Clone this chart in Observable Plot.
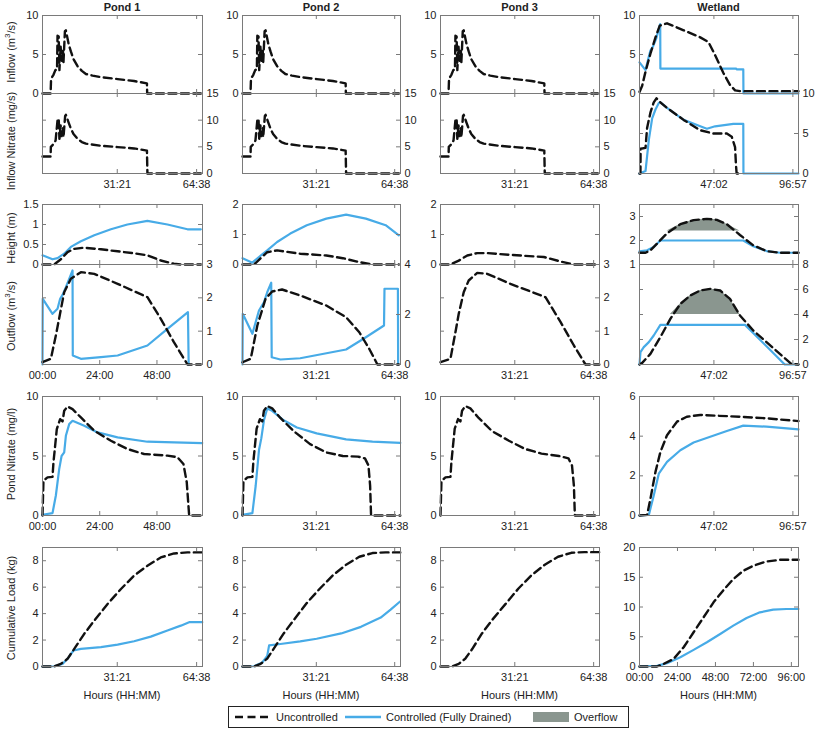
<!DOCTYPE html>
<html><head><meta charset="utf-8">
<script src="https://cdn.jsdelivr.net/npm/d3@7"></script>
<script src="https://cdn.jsdelivr.net/npm/@observablehq/plot@0.6"></script>
<style>
body{margin:0;background:#fff;}
#chart{position:relative;width:817px;height:732px;font-family:"Liberation Sans",Arial,Helvetica,sans-serif;color:#222;overflow:hidden;}
#chart svg.panel{position:absolute;overflow:visible;}
.lab{position:absolute;font-size:11px;white-space:nowrap;line-height:12px;}
.title{position:absolute;font-size:11px;font-weight:bold;white-space:nowrap;transform:translate(-50%,-50%);}
</style></head><body><div id="chart"></div><script>
// ---------- tick values & labels ----------
const pondXDomain = [0, 67.1];
const wetXDomain = [0, 100.5];
const pondXTicks = [31.35, 64.633], pondXLabels = ["31:21", "64:38"];
const p1XTicks = [0, 24, 48], p1XLabels = ["00:00", "24:00", "48:00"];
const wetXTicks = [47.033, 96.95], wetXLabels = ["47:02", "96:57"];
const wetCumXTicks = [0, 24, 48, 72, 96], wetCumXLabels = ["00:00", "24:00", "48:00", "72:00", "96:00"];
const columnTitles = ["Pond 1", "Pond 2", "Pond 3", "Wetland"];

// ---------- data: [hours, value] ----------
// Row 1: inflow (identical for ponds 1-3)
const pondInflowUnc = [[0,0],[3.4,0],[3.6,1.9],[4.6,2.4],[5.4,3.0],[6.1,3.1],[6.3,7.4],[6.8,7.3],[7.1,3.0],[7.6,6.0],[8.0,4.2],[8.6,5.5],[8.8,4.0],[9.4,8.0],[9.8,8.1],[11.0,6.3],[11.9,5.4],[13.0,4.4],[14.7,3.5],[16.5,2.9],[18.2,2.5],[21,2.3],[24.5,2.1],[31.5,1.85],[38.4,1.6],[43.8,1.3],[43.9,0],[66.4,0]];
const pondNitInUnc = [[0,3.2],[3.4,3.2],[3.5,5.0],[4.6,5.5],[5.5,6.2],[6.3,10.0],[6.8,10.3],[7.1,6.5],[7.6,9.0],[8.0,7.0],[8.6,8.5],[8.8,6.8],[9.5,10.8],[9.8,11.0],[11.0,9.5],[11.9,8.4],[13.0,7.4],[14.7,6.5],[16.5,5.9],[18.2,5.6],[24.5,5.2],[31.5,4.95],[38.4,4.7],[43.8,4.3],[44.0,0],[66.4,0]];
const wetInflowUnc = [[0,0.2],[1.7,1.0],[3.8,2.8],[6.9,5.1],[10.1,7.2],[12.8,8.7],[17.4,9.0],[27.9,8.1],[38.4,7.2],[43.6,6.6],[47.8,4.9],[53.1,2.6],[57.2,1.1],[60.4,0.4],[63.5,0.3],[100.5,0.3]];
const wetInflowCon = [[0,4.0],[3.8,3.0],[5.0,4.0],[6.9,5.5],[8.5,6.0],[10.5,7.0],[12.8,8.7],[13.1,8.9],[13.2,3.2],[61.0,3.2],[61.4,3.1],[65.6,3.1],[65.7,0],[100.5,0]];
const wetNitInUnc = [[0,0],[0.6,0],[0.7,3.1],[3.8,3.2],[4.8,5.7],[6.9,7.6],[9.0,8.9],[10.7,9.4],[13.2,8.9],[17.4,8.2],[27.9,6.7],[38.4,5.4],[46.8,5.0],[55.2,5.0],[58.3,4.6],[60.4,3.3],[61.0,1.0],[61.4,0],[65.0,0]];
const wetNitInCon = [[0,0],[3.8,0.3],[5.9,4.2],[8.0,6.9],[10.1,8.0],[12.2,8.8],[13.2,8.9],[17.4,8.2],[27.9,6.7],[38.4,5.9],[42.6,5.6],[47.8,5.9],[59.3,6.2],[65.6,6.2],[65.7,0],[100.5,0]];

// Row 2: height & outflow
const p1HeightUnc = [[0,0],[4.9,0],[7.7,0.13],[10.5,0.31],[13.3,0.39],[17.5,0.42],[24.5,0.38],[31.5,0.33],[38.4,0.28],[44.0,0.23],[49.6,0.1],[55.1,0.02],[57.9,0],[66.4,0]];
const p1HeightCon = [[0,0.23],[4.2,0.13],[6.3,0.16],[9.1,0.27],[11.9,0.44],[16.1,0.58],[21.7,0.73],[28.7,0.88],[35.6,1.0],[44.0,1.09],[52.4,1.0],[60.8,0.88],[66.4,0.88]];
const p1OutUnc = [[0,0.07],[3.5,0.17],[5.6,0.87],[9.1,2.17],[11.9,2.57],[16.1,2.77],[21.7,2.72],[31.5,2.42],[44.0,2.02],[49.6,1.37],[55.1,0.67],[60.8,0],[66.4,0]];
const p1OutCon = [[0,0],[0.1,1.97],[4.2,1.52],[6.3,1.67],[7.4,1.97],[8.4,2.09],[9.8,2.32],[11.2,2.57],[12.6,2.82],[12.7,0.27],[16.1,0.17],[24.5,0.22],[31.5,0.27],[44.0,0.57],[52.4,1.07],[61.0,1.57],[61.3,0]];
const p2HeightUnc = [[0,0],[4.9,0],[7.7,0.21],[10.5,0.41],[14.7,0.47],[24.5,0.36],[35.6,0.3],[42.6,0.21],[49.6,0.08],[55.1,0],[66.4,0]];
const p2HeightCon = [[0,0.21],[4.2,0.06],[7.0,0.25],[10.5,0.47],[14.7,0.75],[20.3,1.03],[27.3,1.31],[35.6,1.53],[44.0,1.66],[52.4,1.53],[60.8,1.31],[66.4,0.97]];
const p2OutUnc = [[0,0.09],[3.5,0.23],[6.3,1.56],[9.8,2.63],[12.6,2.92],[16.8,3.0],[24.5,2.76],[35.6,2.36],[44.0,1.89],[49.6,1.29],[53.8,0.63],[57.3,0],[66.4,0]];
const p2OutCon = [[0,0],[0.1,2.03],[4.2,1.23],[7.0,2.16],[9.1,2.49],[10.5,2.89],[12.2,3.27],[12.4,0.29],[16.1,0.2],[24.5,0.25],[44.0,0.6],[52.4,1.09],[60.1,1.56],[60.3,3.03],[66.0,3.03],[66.1,0]];
const p3HeightUnc = [[0,0],[4.2,0],[7.7,0.13],[11.3,0.3],[15.5,0.38],[19.7,0.38],[29.5,0.32],[43.6,0.25],[50.7,0.1],[56.3,0],[67,0]];
const p3OutUnc = [[0,0.07],[4.2,0.17],[6.3,0.97],[7.7,1.52],[9.8,2.17],[11.9,2.52],[15.5,2.75],[19.7,2.72],[29.5,2.42],[44.3,2.02],[50.7,1.27],[56.3,0.57],[61.2,0],[67,0]];
const wetHeightUnc = [[0,1.49],[3.8,1.49],[6.9,1.59],[11.1,1.87],[17.4,2.3],[25.8,2.68],[34.2,2.85],[42.6,2.9],[48.9,2.86],[55.2,2.68],[63.5,2.23],[71.9,1.8],[80.3,1.56],[88.7,1.49],[100.5,1.49]];
const wetHeightCon = [[0,1.55],[4.8,1.59],[9.0,1.73],[13.2,2.0],[65.6,2.0],[71.9,1.76],[80.3,1.56],[88.7,1.49],[100.5,1.49]];
const wetOutUnc = [[0,0],[1.7,0.13],[6.9,0.85],[13.2,2.19],[19.5,3.65],[25.8,4.85],[32.1,5.52],[38.4,5.92],[44.7,6.05],[51.0,5.92],[57.2,5.25],[63.5,3.92],[71.9,2.72],[80.3,1.79],[88.7,0.85],[96.0,0.05],[100.5,0]];
const wetOutCon = [[0,0],[0.6,0.99],[2.7,1.39],[5.9,1.79],[9.0,2.32],[13.2,3.17],[66.7,3.17],[91.8,0],[100.5,0]];
const wetHeightOverflow = 2.4;
const wetOutOverflow = 4;

// Row 3: pond nitrate
const p1NitUnc = [[0,0],[0.4,2.93],[2.1,3.2],[4.2,3.25],[4.6,4.47],[6.0,7.26],[7.4,8.1],[8.4,7.9],[9.1,8.8],[10.5,9.16],[12.6,8.94],[16.1,8.24],[21.7,7.12],[28.7,6.28],[35.6,5.59],[42.6,5.17],[52.4,5.03],[56.6,4.9],[59.1,4.33],[60.5,2.79],[61.5,0],[67,0]];
const p1NitCon = [[0,0.06],[4.2,0.2],[5.6,1.68],[7.0,3.9],[8.0,5.0],[9.1,5.3],[9.8,6.7],[11.2,7.68],[12.6,7.96],[17.5,7.54],[23.1,6.98],[31.5,6.56],[44.0,6.2],[55.2,6.15],[67,6.09]];
const p2NitUnc = [[0,0],[0.4,2.9],[2.1,3.2],[4.2,3.25],[4.6,4.5],[6.0,7.3],[7.4,8.1],[8.4,7.9],[9.1,8.8],[10.5,9.2],[12.6,9.0],[16.1,8.2],[21.7,7.1],[28.7,6.0],[35.6,5.3],[42.6,5.0],[49,4.95],[52,4.8],[53.5,4.2],[54.2,2.5],[54.6,0],[67,0]];
const p2NitCon = [[0,0.05],[4.2,0.2],[5.6,2.5],[7.0,5.5],[8.0,6.5],[9.1,8.0],[10.5,9.0],[12.6,8.8],[17.5,8.0],[23.1,7.4],[31.5,6.9],[44.0,6.4],[55.2,6.2],[67,6.1]];
const p3NitUnc = [[0,0],[0.4,2.9],[2.1,3.2],[4.2,3.25],[4.6,4.5],[6.0,7.3],[7.4,8.1],[8.4,7.9],[9.1,8.8],[10.5,9.2],[12.6,9.0],[16.1,8.2],[21.7,7.1],[28.7,6.3],[35.6,5.6],[42.6,5.2],[50,5.0],[54,4.8],[55.5,4.2],[56.3,2.5],[56.7,0],[67,0]];
const wetNitUnc = [[0,0],[4.8,0.03],[6.9,0.84],[10.1,2.2],[13.2,3.2],[17.4,4.05],[23.7,4.73],[29.9,4.98],[38.4,5.07],[48.9,5.03],[63.5,4.98],[80.3,4.9],[100.5,4.76]];
const wetNitCon = [[0,0],[5.9,0.03],[9.0,1.01],[12.2,2.11],[17.4,2.7],[25.8,3.29],[34.2,3.68],[44.7,3.97],[55.2,4.26],[65.6,4.53],[80.3,4.48],[100.5,4.34]];

// Row 4: cumulative load
const p1CumUnc = [[0,0],[4.9,0],[7.7,0.2],[10.5,0.58],[13.3,1.33],[17.5,2.47],[21.7,3.47],[27.3,4.73],[32.9,5.86],[38.4,6.87],[44.0,7.62],[49.6,8.25],[55.2,8.55],[60.8,8.63],[67,8.63]];
const p1CumCon = [[0,0],[4.9,0.02],[8.4,0.2],[10.5,0.58],[13.0,1.21],[16.1,1.33],[24.5,1.46],[31.5,1.66],[38.4,1.91],[45.4,2.26],[52.4,2.72],[58.0,3.09],[61.5,3.35],[67,3.35]];
const p2CumUnc = [[0,0],[4.9,0],[7.7,0.2],[10.5,0.6],[13.3,1.35],[17.5,2.5],[21.7,3.5],[27.3,4.8],[32.9,5.9],[38.4,6.9],[44.0,7.7],[49.6,8.3],[55.2,8.58],[60.8,8.63],[67,8.63]];
const p2CumCon = [[0,0],[4.9,0.02],[8.4,0.3],[10.5,0.8],[11.3,1.6],[16.1,1.7],[24.5,1.9],[31.5,2.1],[41.9,2.5],[50.3,3.0],[58.7,3.7],[62.9,4.3],[66.8,4.9]];
const p3CumUnc = [[0,0],[4.9,0],[7.7,0.2],[10.5,0.6],[13.3,1.3],[17.5,2.5],[21.7,3.5],[27.3,4.7],[32.9,5.9],[38.4,6.9],[44.0,7.7],[49.6,8.3],[55.2,8.6],[60.8,8.65],[67,8.65]];
const wetCumUnc = [[0,0],[11.1,0],[15.3,0.45],[21.6,1.28],[27.9,3.24],[34.2,5.75],[40.5,8.27],[46.8,10.78],[53.1,12.85],[59.3,14.69],[65.6,16.09],[71.9,16.93],[80.3,17.65],[88.7,17.93],[100.5,17.93]];
const wetCumCon = [[0,0],[11.1,0.1],[17.4,0.56],[25.8,1.56],[34.2,2.79],[42.6,4.08],[51.0,5.47],[59.3,6.87],[67.7,8.16],[76.1,9.1],[84.5,9.55],[92.9,9.66],[100.5,9.66]];

// ---------- layout ----------
const BLUE = "#47abe7", BLACK = "#111", GREY = "#8a968f", FRAME = "#7a7a7a";
const DASH = "8,4.5";
const colX = [42, 242, 440, 639], colW = [160, 158, 159, 159];
const rows = {inflow:[15,78], nitIn:[93,80], height:[204,60], out:[264,100], pond:[396,119], cum:[547,119]};
const chart = document.getElementById("chart");

function panel(col, rowKey, o) {
  const [y0, h] = rows[rowKey];
  const x0 = colX[col], w = colW[col];
  const X = d => d[0], Y = d => d[1];
  const marks = [];
  if (o.thr != null) marks.push(Plot.areaY(o.unc, {x: X, y1: o.thr, y2: d => Math.max(d[1], o.thr), fill: GREY}));
  if (o.con) marks.push(Plot.line(o.con, {x: X, y: Y, stroke: BLUE, strokeWidth: 2.2}));
  if (o.unc) marks.push(Plot.line(o.unc, {x: X, y: Y, stroke: BLACK, strokeWidth: 2.4, strokeDasharray: DASH}));
  marks.push(Plot.frame({stroke: FRAME}));
  marks.push(Plot.tickY(o.yTicks, {y: d => d, insetRight: w - 4, stroke: FRAME}));
  marks.push(Plot.tickY(o.yTicks, {y: d => d, insetLeft: w - 4, stroke: FRAME}));
  marks.push(Plot.tickX(o.xTicks, {x: d => d, insetBottom: h - 4, stroke: FRAME}));
  marks.push(Plot.tickX(o.xTicks, {x: d => d, insetTop: h - 4, stroke: FRAME}));
  marks.push(Plot.axisY(o.yTicks, {anchor: o.yAnchor || "left", tickSize: 0, tickPadding: 4, label: null, tickFormat: d => String(d)}));
  if (o.xLabels) marks.push(Plot.axisX(o.xTicks, {anchor: "bottom", tickSize: 0, tickPadding: 7, label: null, tickFormat: d => o.xLabels[o.xTicks.indexOf(d)]}));
  const svg = Plot.plot({
    width: w, height: h, marginTop: 0, marginRight: 0, marginBottom: 0, marginLeft: 0,
    x: {domain: o.xDomain, axis: null}, y: {domain: o.yDomain, axis: null},
    style: {overflow: "visible", background: "transparent", fontSize: "11px", fontFamily: "'Liberation Sans', Arial, Helvetica, sans-serif", color: "#222"},
    marks
  });
  svg.classList.add("panel");
  svg.style.left = x0 + "px"; svg.style.top = y0 + "px";
  chart.appendChild(svg);
}

const pondCols = [0, 1, 2];
const pondData = [
  {hU: p1HeightUnc, hC: p1HeightCon, hT: [0, 0.5, 1, 1.5], hD: [0, 1.5], oU: p1OutUnc, oC: p1OutCon, oT: [0, 1, 2, 3], oD: [0, 3], nU: p1NitUnc, nC: p1NitCon, cU: p1CumUnc, cC: p1CumCon, midT: p1XTicks, midL: p1XLabels},
  {hU: p2HeightUnc, hC: p2HeightCon, hT: [0, 1, 2], hD: [0, 2], oU: p2OutUnc, oC: p2OutCon, oT: [0, 2, 4], oD: [0, 4], nU: p2NitUnc, nC: p2NitCon, cU: p2CumUnc, cC: p2CumCon, midT: pondXTicks, midL: pondXLabels},
  {hU: p3HeightUnc, hC: null, hT: [0, 1, 2], hD: [0, 2], oU: p3OutUnc, oC: null, oT: [0, 1, 2, 3], oD: [0, 3], nU: p3NitUnc, nC: null, cU: p3CumUnc, cC: null, midT: pondXTicks, midL: pondXLabels}
];
pondCols.forEach(c => {
  const p = pondData[c];
  panel(c, "inflow", {unc: pondInflowUnc, xDomain: pondXDomain, yDomain: [0, 10], yTicks: [0, 5, 10], xTicks: pondXTicks});
  panel(c, "nitIn", {unc: pondNitInUnc, xDomain: pondXDomain, yDomain: [0, 15], yTicks: [0, 5, 10, 15], yAnchor: "right", xTicks: pondXTicks, xLabels: pondXLabels});
  panel(c, "height", {unc: p.hU, con: p.hC, xDomain: pondXDomain, yDomain: p.hD, yTicks: p.hT, xTicks: p.midT});
  panel(c, "out", {unc: p.oU, con: p.oC, xDomain: pondXDomain, yDomain: p.oD, yTicks: p.oT, yAnchor: "right", xTicks: p.midT, xLabels: p.midL});
  panel(c, "pond", {unc: p.nU, con: p.nC, xDomain: pondXDomain, yDomain: [0, 10], yTicks: [0, 5, 10], xTicks: p.midT, xLabels: p.midL});
  panel(c, "cum", {unc: p.cU, con: p.cC, xDomain: pondXDomain, yDomain: [0, 9], yTicks: [0, 2, 4, 6, 8], xTicks: pondXTicks, xLabels: pondXLabels});
});
panel(3, "inflow", {unc: wetInflowUnc, con: wetInflowCon, xDomain: wetXDomain, yDomain: [0, 10], yTicks: [0, 5, 10], xTicks: wetXTicks});
panel(3, "nitIn", {unc: wetNitInUnc, con: wetNitInCon, xDomain: wetXDomain, yDomain: [0, 10], yTicks: [0, 5, 10], yAnchor: "right", xTicks: wetXTicks, xLabels: wetXLabels});
panel(3, "height", {unc: wetHeightUnc, con: wetHeightCon, thr: wetHeightOverflow, xDomain: wetXDomain, yDomain: [1, 3.5], yTicks: [1, 2, 3], xTicks: wetXTicks});
panel(3, "out", {unc: wetOutUnc, con: wetOutCon, thr: wetOutOverflow, xDomain: wetXDomain, yDomain: [0, 8], yTicks: [0, 2, 4, 6, 8], yAnchor: "right", xTicks: wetXTicks, xLabels: wetXLabels});
panel(3, "pond", {unc: wetNitUnc, con: wetNitCon, xDomain: wetXDomain, yDomain: [0, 6], yTicks: [0, 2, 4, 6], xTicks: wetXTicks, xLabels: wetXLabels});
panel(3, "cum", {unc: wetCumUnc, con: wetCumCon, xDomain: wetXDomain, yDomain: [0, 20], yTicks: [0, 5, 10, 15, 20], xTicks: wetCumXTicks, xLabels: wetCumXLabels});

// ---------- text ----------
function addDiv(cls, html, css) {
  const d = document.createElement("div");
  d.className = cls; d.innerHTML = html;
  Object.assign(d.style, css);
  chart.appendChild(d);
  return d;
}
columnTitles.forEach((t, i) => addDiv("title", t, {left: (colX[i] + colW[i] / 2) + "px", top: "7px"}));
columnTitles.forEach((t, i) => addDiv("lab", "Hours (HH:MM)", {left: (colX[i] + colW[i] / 2) + "px", top: "695px", transform: "translate(-50%,-50%)"}));
const yLabels = [
  ["Inflow (m<sup style='font-size:8px;line-height:0'>3</sup>/s)", 52],
  ["Inflow Nitrate (mg/s)", 141],
  ["Height (m)", 238],
  ["Outflow (m<sup style='font-size:8px;line-height:0'>3</sup>/s)", 316],
  ["Pond Nitrate (mg/l)", 454],
  ["Cumulative Load (kg)", 608]
];
yLabels.forEach(([t, yc]) => {
  addDiv("lab", t, {left: "11px", top: yc + "px", transform: "translate(-50%,-50%) rotate(-90deg)"});
});

// ---------- legend ----------
const legend = addDiv("lab", "", {left: "228px", top: "706px", width: "399px", height: "20px", border: "1px solid #222", background: "#fff"});
const legendItems = [
  {label: "Uncontrolled", kind: "dash", x: 6},
  {label: "Controlled (Fully Drained)", kind: "line", x: 116},
  {label: "Overflow", kind: "fill", x: 304}
];
legendItems.forEach(it => {
  const sw = it.kind === "fill"
    ? `<rect x="0" y="1" width="36" height="10" fill="${GREY}"/>`
    : `<line x1="0" x2="36" y1="6" y2="6" stroke="${it.kind === "dash" ? BLACK : BLUE}" stroke-width="2.3" ${it.kind === "dash" ? `stroke-dasharray="${DASH}"` : ""}/>`;
  const s = document.createElementNS("http://www.w3.org/2000/svg", "svg");
  s.setAttribute("width", 36); s.setAttribute("height", 12);
  s.innerHTML = sw;
  Object.assign(s.style, {position: "absolute", left: it.x + "px", top: "4px"});
  legend.appendChild(s);
  const t = document.createElement("span");
  t.textContent = it.label;
  Object.assign(t.style, {position: "absolute", left: (it.x + 41) + "px", top: "4px", fontSize: "11px"});
  legend.appendChild(t);
});
</script></body></html>
